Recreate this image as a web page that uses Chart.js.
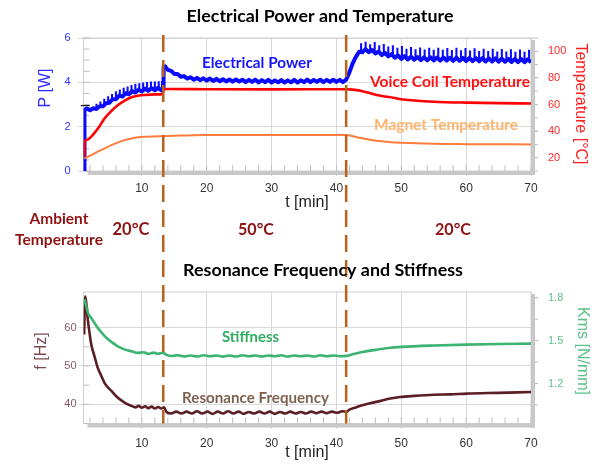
<!DOCTYPE html>
<html>
<head>
<meta charset="utf-8">
<script src="https://cdn.jsdelivr.net/npm/chart.js@4.4.1/dist/chart.umd.min.js"></script>
<style>
  body { margin: 0; background: #fff; }
  #wrap { position: relative; width: 598px; height: 464px; }
  canvas { position: absolute; left: 0; }
  #top { top: 0; }
  #bottom { top: 258px; }
</style>
</head>
<body>
<div id="wrap">
  <canvas id="top" width="598" height="258"></canvas>
  <canvas id="bottom" width="598" height="206"></canvas>
</div>
<script>
// time axis [min] and the moments the ambient temperature was switched
const xTicks = [10, 20, 30, 40, 50, 60, 70];
const switchTimes = [13.3, 41.5];
const ambientLabels = ['20°C', '50°C', '20°C'];

const powerTicks = [0, 2, 4, 6];
const tempTicks = [20, 40, 60, 80, 100];
const freqTicks = [40, 50, 60];
const kmsTicks = [1.2, 1.5, 1.8];

// electrical power [W], the noisy band
const tPower = [1.1, 1.15, 1.5, 2, 2.5, 3, 3.5, 4, 4.5, 5, 5.5, 6, 6.5, 7, 7.5, 8, 8.5, 9, 9.5, 10, 10.5, 11, 11.5, 12, 12.5, 13,
  13.3, 13.35, 13.6, 14, 14.5, 15, 15.5, 16, 16.5, 17, 17.5, 18, 18.5, 19, 19.5, 20, 20.5, 21, 21.5, 22, 22.5, 23, 23.5, 24, 24.5,
  25, 25.5, 26, 26.5, 27, 27.5, 28, 28.5, 29, 29.5, 30, 30.5, 31, 31.5, 32, 32.5, 33, 33.5, 34, 34.5, 35, 35.5, 36, 36.5, 37, 37.5,
  38, 38.5, 39, 39.5, 40, 40.5, 41, 41.5, 42, 42.5, 43, 43.5, 44, 44.5, 45, 45.5, 46, 46.5, 47, 47.5, 48, 48.5, 49, 49.5, 50, 50.5,
  51, 51.5, 52, 52.5, 53, 53.5, 54, 54.5, 55, 55.5, 56, 56.5, 57, 57.5, 58, 58.5, 59, 59.5, 60, 60.5, 61, 61.5, 62, 62.5, 63, 63.5,
  64, 64.5, 65, 65.5, 66, 66.5, 67, 67.5, 68, 68.5, 69, 69.5, 70];
const power = [0, 2.75, 2.82, 2.74, 2.83, 2.80, 2.92, 2.92, 3.06, 3.08, 3.24, 3.24, 3.40, 3.36, 3.51, 3.46, 3.60, 3.54, 3.67, 3.59,
  3.72, 3.62, 3.74, 3.64, 3.75, 3.64,
  3.72, 4.70, 4.72, 4.56, 4.52, 4.38, 4.38, 4.25, 4.28, 4.17, 4.23, 4.12, 4.20, 4.10, 4.18, 4.08, 4.17, 4.06, 4.16, 4.05, 4.14, 4.04,
  4.13, 4.03, 4.13, 4.04, 4.12, 4.01, 4.11, 4.02, 4.12, 4.00, 4.10, 4.01, 4.11, 3.99, 4.09, 4.00, 4.10, 3.99, 4.09, 4.00, 4.11, 3.99,
  4.09, 4.01, 4.12, 4.01, 4.11, 4.02, 4.12, 4.01, 4.11, 4.02, 4.12, 4.02, 4.11, 4.01, 4.12,
  4.45, 4.85, 5.15, 5.38, 5.36, 5.50, 5.36, 5.46, 5.30, 5.39, 5.23, 5.33, 5.17, 5.27, 5.11, 5.21, 5.06, 5.18, 5.03, 5.16, 5.02, 5.14,
  5.00, 5.13, 4.99, 5.13, 4.99, 5.12, 4.98, 5.12, 4.98, 5.11, 4.97, 5.11, 4.97, 5.10, 4.96, 5.10, 4.96, 5.09, 4.95, 5.09, 4.94, 5.08,
  4.94, 5.08, 4.93, 5.07, 4.93, 5.06, 4.92, 5.06, 4.91, 5.05, 4.91, 5.04, 4.91];

// electrical power: the comb of spikes above the band (foot, tip)
const tSpike = [3.0, 3.6, 4.2, 4.8, 5.4, 6.0, 6.6, 7.2, 7.8, 8.4, 9.0, 9.6, 10.2, 10.8, 11.4, 12.0, 12.6, 13.1,
  43.8, 44.5, 45.2, 45.9, 46.6, 47.3, 48.0, 48.7, 49.4, 50.1, 50.8, 51.5, 52.2, 52.9, 53.6, 54.3, 55.0, 55.7, 56.4, 57.1,
  57.8, 58.5, 59.2, 59.9, 60.6, 61.3, 62.0, 62.7, 63.4, 64.1, 64.8, 65.5, 66.2, 66.9, 67.6, 68.3, 69.0, 69.7];
const spikeFoot = [2.85, 2.93, 3.03, 3.12, 3.21, 3.30, 3.38, 3.44, 3.50, 3.56, 3.60, 3.63, 3.66, 3.68, 3.69, 3.70, 3.70, 3.70,
  5.42, 5.44, 5.42, 5.38, 5.33, 5.28, 5.23, 5.19, 5.15, 5.12, 5.10, 5.09, 5.08, 5.07, 5.06, 5.06, 5.05, 5.05, 5.05, 5.04,
  5.04, 5.04, 5.03, 5.03, 5.03, 5.02, 5.02, 5.01, 5.01, 5.00, 5.00, 4.99, 4.99, 4.98, 4.98, 4.97, 4.97, 4.97];
const spikeTip = [3.02, 3.12, 3.25, 3.36, 3.46, 3.58, 3.66, 3.74, 3.80, 3.86, 3.92, 3.94, 3.98, 4.00, 4.02, 4.02, 4.03, 4.04,
  5.75, 5.82, 5.70, 5.80, 5.66, 5.72, 5.60, 5.66, 5.55, 5.62, 5.50, 5.58, 5.48, 5.56, 5.47, 5.55, 5.46, 5.54, 5.45, 5.53,
  5.44, 5.54, 5.43, 5.53, 5.42, 5.52, 5.40, 5.50, 5.40, 5.50, 5.38, 5.49, 5.38, 5.48, 5.37, 5.47, 5.36, 5.46];

// voice coil and magnet temperature [°C]
const tCoil = [1.12, 1.15, 1.6, 2.2, 3.25, 4.27, 5.3, 6.33, 7.36, 8.4, 9.4, 10.5, 12, 13.2, 13.4, 14, 20, 30, 41.5, 42.5, 43.7,
  45, 46.2, 47.5, 48.8, 50, 52, 55, 60, 65, 70];
const coilTemp = [21, 32, 33.5, 35.8, 42.1, 49.6, 55.1, 59.6, 62.9, 65.4, 66.6, 67.2, 67.6, 67.8, 71.5, 71.6, 71.5, 71.4, 71.5, 71.2,
  70.4, 68.8, 67.1, 66, 65.1, 63.9, 63, 62.1, 61.4, 61, 60.8];
const tMagnet = [1.12, 2.2, 3.2, 4.27, 5.3, 6.33, 7.36, 8.4, 9.4, 10.4, 13, 16, 20, 30, 41.5, 42.5, 43.5, 45, 46.2, 48, 50, 55, 60, 70];
const magnetTemp = [19.5, 22, 24.5, 27, 29.4, 31.5, 33.2, 34.5, 35.3, 35.7, 36.2, 36.6, 37, 37.1, 37, 36.2, 35, 33.7, 32.7, 31.8,
  31.2, 30.4, 30.2, 30];

// small black marker at the start of the power trace
const tBracket = [0.57, 0.57, 1.96];
const pBracket = [2.0, 2.95, 2.95];

// resonance frequency [Hz]
const tRes = [1.1, 1.25, 1.7, 2.2, 2.7, 3.2, 3.75, 4.3, 5.3, 6.3, 7.4, 8.4, 9, 9.5, 10, 10.5, 11, 11.5, 12, 12.5, 13, 13.4, 13.8,
  14.5, 15.3, 16.1, 16.9, 17.7, 18.5, 19.3, 20.1, 20.9, 21.7, 22.5, 23.3, 24.1, 24.9, 25.7, 26.5, 27.3, 28.1, 28.9, 29.7, 30.5,
  31.3, 32.1, 32.9, 33.7, 34.5, 35.3, 36.1, 36.9, 37.7, 38.5, 39.3, 40.1, 40.9, 41.5, 42, 43, 43.7, 45, 46.8, 48.3, 49.8, 52, 55,
  57.5, 60.1, 65, 70];
const resFreq = [58.2, 68.1, 61.6, 55.6, 52.5, 49.5, 47.4, 45.4, 43.5, 41.7, 40.4, 39.6, 39.2, 39.6, 39.1, 39.5, 39.0, 39.4, 38.9,
  39.3, 38.9, 39.2, 38.0, 37.6, 38.1, 37.6, 38.1, 37.6, 38.2, 37.6, 38.1, 37.5, 38.1, 37.6, 38.2, 37.6, 38.1, 37.5, 38.0, 37.6,
  38.1, 37.6, 38.1, 37.5, 38.0, 37.6, 38.1, 37.6, 38.0, 37.6, 38.1, 37.7, 38.1, 37.7, 38.1, 37.8, 38.2, 38.0, 38.6, 39.2, 39.6,
  40.2, 40.9, 41.5, 41.9, 42.2, 42.5, 42.6, 42.8, 43.0, 43.2];

// stiffness Kms [N/mm]
const tStiff = [1.15, 1.3, 1.7, 2.2, 3.2, 4.3, 5.3, 6.3, 7.4, 8.4, 9.4, 10.3, 11, 11.8, 12.5, 13.2, 13.8, 14.5, 15.5, 16.5, 17.5,
  18.5, 19.5, 20.5, 21.5, 22.5, 23.5, 24.5, 25.5, 26.5, 27.5, 28.5, 29.5, 30.5, 31.5, 32.5, 33.5, 34.5, 35.5, 36.5, 37.5, 38.5,
  39.5, 40.5, 41.5, 42.5, 44, 46, 48, 50, 55, 60, 65, 70];
const stiffness = [1.79, 1.763, 1.693, 1.658, 1.589, 1.530, 1.491, 1.460, 1.437, 1.425, 1.414, 1.418, 1.408, 1.416, 1.407, 1.415,
  1.400, 1.392, 1.398, 1.389, 1.396, 1.389, 1.397, 1.390, 1.396, 1.388, 1.396, 1.389, 1.397, 1.390, 1.396, 1.389, 1.396, 1.390,
  1.397, 1.389, 1.396, 1.390, 1.396, 1.389, 1.397, 1.390, 1.396, 1.391, 1.393, 1.405, 1.42, 1.435, 1.448, 1.456, 1.466, 1.472,
  1.476, 1.479];

const AXIS_FONT = '"Liberation Sans", Arial, sans-serif';
const LABEL_FONT = 'Lato, "Noto Sans", sans-serif';
const GRID = '#d9d9d9';
const DASH = [17, 8];
const TOP_H = 258;

const pts = (xs, ys) => xs.map((x, i) => ({x, y: ys[i]}));
const fixedTicks = values => s => { s.ticks = values.map(v => ({value: v})); };

// plot frame, minor ticks and the grey "shadow" bars bottom/right
function framePlugin(minor) {
  return {
    id: 'frame',
    beforeDatasetsDraw(chart) {
      const {ctx, chartArea: a, scales} = chart;
      ctx.save();
      ctx.lineWidth = 1;
      ctx.strokeStyle = '#d0d0d0';
      ctx.strokeRect(a.left, a.top, a.width, a.height);
      ctx.strokeStyle = '#bfbfbf';
      minor.forEach(m => {
        const s = scales[m.axis];
        for (let i = Math.ceil(s.min / m.step - 1e-9); i * m.step <= s.max + 1e-9; i++) {
          const p = s.getPixelForValue(i * m.step);
          ctx.beginPath();
          if (m.axis === 'x') { ctx.moveTo(p, a.bottom); ctx.lineTo(p, a.bottom - 6); }
          else if (m.out) { ctx.moveTo(a.right, p); ctx.lineTo(a.right + 7, p); }
          else { ctx.moveTo(a.left, p); ctx.lineTo(a.left + 6, p); }
          ctx.stroke();
        }
      });
      ctx.fillStyle = '#c8c8c8';
      ctx.fillRect(a.left + 4, a.bottom, a.width, 4);
      ctx.fillRect(a.right, a.top + 2, 4, a.height + 2);
      ctx.restore();
    }
  };
}

// dashed lines at the ambient temperature switches, running through both panels
function dashPlugin(isTop) {
  return {
    id: 'dashes',
    afterDatasetsDraw(chart) {
      const {ctx, chartArea: a, scales: {x}} = chart;
      const y0 = isTop ? a.top - 3 : 0;
      const y1 = isTop ? chart.height : a.bottom;
      ctx.save();
      ctx.strokeStyle = '#b8621b';
      ctx.lineWidth = 2.5;
      ctx.setLineDash(DASH);
      ctx.lineDashOffset = isTop ? 0 : (TOP_H - 35) % (DASH[0] + DASH[1]);
      switchTimes.forEach(t => {
        const px = x.getPixelForValue(t);
        ctx.beginPath();
        ctx.moveTo(px, y0);
        ctx.lineTo(px, y1);
        ctx.stroke();
      });
      ctx.restore();
    }
  };
}

function textPlugin(items) {
  return {
    id: 'texts',
    afterDraw(chart) {
      const ctx = chart.ctx;
      items.forEach(t => {
        ctx.save();
        ctx.translate(t.x, t.y);
        if (t.rot) ctx.rotate(t.rot * Math.PI / 180);
        ctx.fillStyle = t.color;
        ctx.textAlign = 'center';
        ctx.textBaseline = 'middle';
        const weight = t.bold ? 'bold ' : '';
        const fam = t.bold ? LABEL_FONT : AXIS_FONT;
        let size = t.size || 16;
        if (t.w) {
          ctx.font = weight + '20px ' + fam;
          size = 20 * t.w / ctx.measureText(t.text).width;
        }
        ctx.font = weight + size + 'px ' + fam;
        ctx.fillText(t.text, 0, 0);
        ctx.restore();
      });
    }
  };
}

function xScale(pad, height) {
  return {
    type: 'linear', min: 1, max: 70, offset: false,
    afterBuildTicks: fixedTicks(xTicks),
    afterFit: s => { s.height = height; },
    grid: {color: GRID, tickLength: 5, offset: false},
    border: {display: false},
    ticks: {padding: pad, color: '#333', maxRotation: 0, font: {family: AXIS_FONT, size: 12}}
  };
}

const common = {
  responsive: false,
  animation: false,
  events: [],
  elements: {point: {radius: 0}, line: {tension: 0}},
  plugins: {legend: {display: false}, tooltip: {enabled: false}}
};

new Chart(document.getElementById('top'), {
  type: 'line',
  data: {
    datasets: [
      {data: pts(tMagnet, magnetTemp), yAxisID: 'y1', borderColor: '#ff7d3c', borderWidth: 2, cubicInterpolationMode: 'monotone'},
      {data: pts(tCoil, coilTemp), yAxisID: 'y1', borderColor: '#ff0000', borderWidth: 2.6, cubicInterpolationMode: 'monotone'},
      {data: pts(tPower, power), yAxisID: 'y', borderColor: '#0a0aff', borderWidth: 4, borderJoinStyle: 'round'},
      {
        type: 'bar', data: tSpike.map((t, i) => ({x: t, y: [spikeFoot[i], spikeTip[i]]})), yAxisID: 'y',
        backgroundColor: '#0a0aff', barThickness: 1.4, grouped: false
      },
      {data: pts(tBracket, pBracket), yAxisID: 'y', borderColor: '#222', borderWidth: 1.3, clip: false}
    ]
  },
  options: {
    ...common,
    layout: {padding: {top: 38, bottom: 47, left: 0, right: 0}},
    scales: {
      x: xScale(5.5, 40),
      y: {
        position: 'left', min: 0, max: 6,
        afterBuildTicks: fixedTicks(powerTicks),
        afterFit: s => { s.width = 83.5; },
        grid: {color: GRID, tickLength: 6},
        border: {display: false},
        ticks: {padding: 7, color: '#3030ff', font: {family: AXIS_FONT, size: 11}}
      },
      y1: {
        position: 'right', min: 10, max: 110,
        afterBuildTicks: fixedTicks(tempTicks),
        afterFit: s => { s.width = 67; },
        grid: {drawOnChartArea: false, color: '#bdbdbd', tickLength: 7},
        border: {display: false},
        ticks: {padding: 10, color: '#ff2a2a', font: {family: AXIS_FONT, size: 11}}
      }
    }
  },
  plugins: [
    framePlugin([{axis: 'x', step: 2}, {axis: 'y', step: 0.5}, {axis: 'y1', step: 10, out: true}]),
    dashPlugin(true),
    textPlugin([
      {text: 'Electrical Power and Temperature', x: 320, y: 16, w: 267, color: '#000', bold: true},
      {text: 'P [W]', x: 45.5, y: 88, rot: -90, color: '#2b2bff', size: 16},
      {text: 'Temperature [°C]', x: 580, y: 104, rot: 90, color: '#ff2020', size: 16},
      {text: 't [min]', x: 307, y: 202.5, color: '#222', size: 16},
      {text: 'Electrical Power', x: 257, y: 63, w: 110, color: '#1414ff', bold: true},
      {text: 'Voice Coil Temperature', x: 450, y: 82, w: 160, color: '#ff1010', bold: true},
      {text: 'Magnet Temperature', x: 446, y: 125, w: 144, color: '#ffb46e', bold: true},
      {text: 'Ambient', x: 59, y: 219, w: 59, color: '#8e1414', bold: true},
      {text: 'Temperature', x: 59, y: 239.5, w: 88, color: '#8e1414', bold: true},
      {text: ambientLabels[0], x: 131, y: 230, w: 37, color: '#8e1414', bold: true},
      {text: ambientLabels[1], x: 256, y: 230, w: 36, color: '#8e1414', bold: true},
      {text: ambientLabels[2], x: 453, y: 230, w: 36, color: '#8e1414', bold: true}
    ])
  ]
});

new Chart(document.getElementById('bottom'), {
  type: 'line',
  data: {
    datasets: [
      {data: pts(tStiff, stiffness), yAxisID: 'y1', borderColor: '#3cb371', borderWidth: 2.6, cubicInterpolationMode: 'monotone'},
      {data: pts(tRes, resFreq), yAxisID: 'y', borderColor: '#5a1e24', borderWidth: 2.6, cubicInterpolationMode: 'monotone'}
    ]
  },
  options: {
    ...common,
    layout: {padding: {top: 34, bottom: 0, left: 0, right: 0}},
    scales: {
      x: xScale(7.5, 40.5),
      y: {
        position: 'left', min: 35, max: 69.3,
        afterBuildTicks: fixedTicks(freqTicks),
        afterFit: s => { s.width = 83.5; },
        grid: {color: GRID, tickLength: 5},
        border: {display: false},
        ticks: {padding: 2, color: '#8a5a5f', font: {family: AXIS_FONT, size: 11}}
      },
      y1: {
        position: 'right', min: 0.92, max: 1.84,
        afterBuildTicks: fixedTicks(kmsTicks),
        afterFit: s => { s.width = 67; },
        grid: {drawOnChartArea: false, color: '#bdbdbd', tickLength: 7},
        border: {display: false},
        ticks: {padding: 10, color: '#5fbf87', font: {family: AXIS_FONT, size: 11}}
      }
    }
  },
  plugins: [
    framePlugin([{axis: 'x', step: 2}, {axis: 'y', step: 5}, {axis: 'y1', step: 0.15, out: true}]),
    dashPlugin(false),
    textPlugin([
      {text: 'Resonance Frequency and Stiffness', x: 323, y: 12, w: 280, color: '#000', bold: true},
      {text: 'f [Hz]', x: 42, y: 93, rot: -90, color: '#7b4a4d', size: 16},
      {text: 'Kms [N/mm]', x: 582, y: 93, rot: 90, color: '#5cc08a', size: 16},
      {text: 't [min]', x: 307, y: 195, color: '#222', size: 16},
      {text: 'Stiffness', x: 250.5, y: 79, w: 57, color: '#2fae62', bold: true},
      {text: 'Resonance Frequency', x: 255.5, y: 139.7, w: 147, color: '#7e6250', bold: true}
    ])
  ]
});
</script>
</body>
</html>
